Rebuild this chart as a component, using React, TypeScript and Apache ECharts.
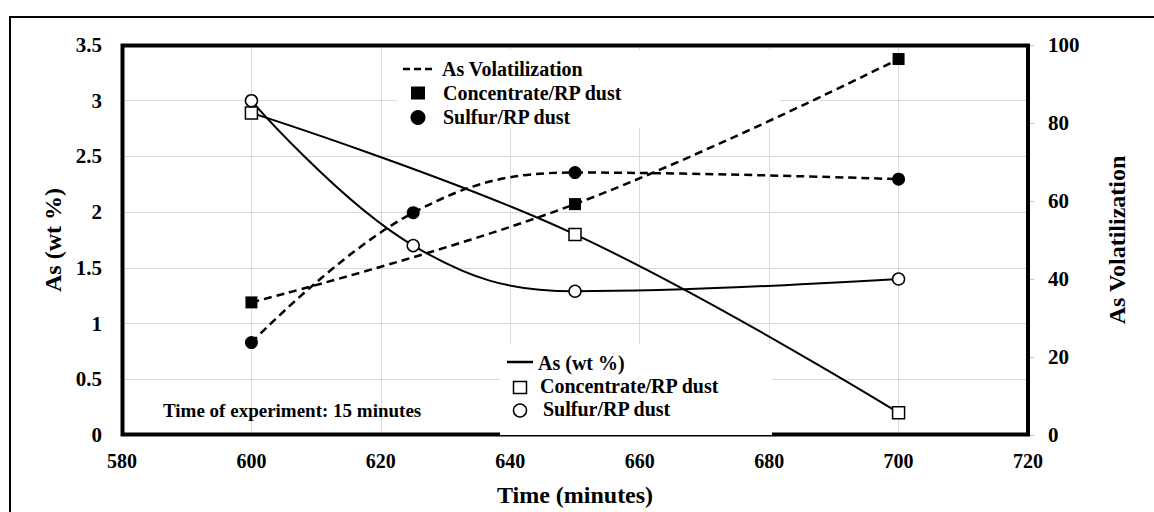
import React, { useEffect, useRef } from 'react';
import * as echarts from 'echarts';

// ---- Data ----
const xMin = 580;
const xMax = 720;
const xInterval = 20;
const wtMax = 3.5;
const wtInterval = 0.5;
const volMax = 100;
const volInterval = 20;

const concTime = [600, 650, 700];
const concWt = [2.89, 1.8, 0.2];
const concVol = [34.0, 59.2, 96.4];

const sulfTime = [600, 625, 650, 700];
const sulfWt = [3.0, 1.7, 1.29, 1.4];
const sulfVol = [23.7, 57.0, 67.3, 65.6];

const xTitle = 'Time (minutes)';
const yLeftTitle = 'As (wt %)';
const yRightTitle = 'As Volatilization';
const note = 'Time of experiment: 15 minutes';

const FONT = "'Liberation Serif', 'Times New Roman', serif";

function pairs(xs: number[], ys: number[]) {
  return xs.map((x, i) => [x, ys[i]]);
}

function txt(text: string, x: number, y: number, size: number) {
  return {
    type: 'text',
    z: 5,
    style: {
      text,
      x,
      y,
      fill: '#000',
      fontFamily: FONT,
      fontSize: size,
      fontWeight: 'bold',
      font: `bold ${size}px ${FONT}`,
      align: 'left',
      textAlign: 'left',
      verticalAlign: 'middle',
      textVerticalAlign: 'middle',
    },
  };
}

export default function App() {
  const ref = useRef<HTMLDivElement>(null);

  useEffect(() => {
    if (!ref.current) return;
    const chart = echarts.init(ref.current, undefined, { renderer: 'svg' });
    const axisLabelStyle = { color: '#000', fontSize: 21, fontWeight: 'bold', fontFamily: FONT };
    const nameStyle = { color: '#000', fontSize: 24, fontWeight: 'bold', fontFamily: FONT };
    const smooth = 0.4;

    chart.setOption({
      animation: false,
      backgroundColor: '#fff',
      textStyle: { fontFamily: FONT },
      grid: { left: 122, right: 126, top: 45, bottom: 77, show: false },
      xAxis: {
        type: 'value',
        min: xMin,
        max: xMax,
        interval: xInterval,
        name: xTitle,
        nameLocation: 'middle',
        nameGap: 48,
        nameTextStyle: nameStyle,
        axisLine: { show: false },
        axisTick: { show: false },
        axisLabel: { ...axisLabelStyle, fontSize: 20, margin: 16 },
        splitLine: { show: true, lineStyle: { color: '#d9d9d9', width: 1 } },
      },
      yAxis: [
        {
          type: 'value',
          min: 0,
          max: wtMax,
          interval: wtInterval,
          name: yLeftTitle,
          nameLocation: 'middle',
          nameGap: 57,
          nameTextStyle: nameStyle,
          axisLine: { show: false },
          axisTick: { show: false },
          axisLabel: { ...axisLabelStyle, margin: 20 },
          splitLine: { show: true, lineStyle: { color: '#d9d9d9', width: 1 } },
        },
        {
          type: 'value',
          position: 'right',
          min: 0,
          max: volMax,
          interval: volInterval,
          name: yRightTitle,
          nameLocation: 'middle',
          nameGap: 77,
          nameTextStyle: nameStyle,
          axisLine: { show: false },
          axisTick: { show: true, length: 6, lineStyle: { color: '#bfbfbf' } },
          axisLabel: { ...axisLabelStyle, margin: 20 },
          splitLine: { show: false },
        },
      ],
      series: [
        {
          name: 'Concentrate/RP dust As (wt %)',
          type: 'line',
          yAxisIndex: 0,
          data: pairs(concTime, concWt),
          smooth,
          symbol: 'rect',
          symbolSize: 12,
          lineStyle: { color: '#000', width: 2 },
          itemStyle: { color: '#fff', borderColor: '#000', borderWidth: 1.5 },
          z: 3,
        },
        {
          name: 'Sulfur/RP dust As (wt %)',
          type: 'line',
          yAxisIndex: 0,
          data: pairs(sulfTime, sulfWt),
          smooth,
          symbol: 'circle',
          symbolSize: 12,
          lineStyle: { color: '#000', width: 2 },
          itemStyle: { color: '#fff', borderColor: '#000', borderWidth: 1.5 },
          z: 3,
        },
        {
          name: 'Concentrate/RP dust As Volatilization',
          type: 'line',
          yAxisIndex: 1,
          data: pairs(concTime, concVol),
          smooth,
          symbol: 'rect',
          symbolSize: 12,
          lineStyle: { color: '#000', width: 2.5, type: [8, 5] },
          itemStyle: { color: '#000' },
          z: 3,
        },
        {
          name: 'Sulfur/RP dust As Volatilization',
          type: 'line',
          yAxisIndex: 1,
          data: pairs(sulfTime, sulfVol),
          smooth,
          symbol: 'circle',
          symbolSize: 13,
          lineStyle: { color: '#000', width: 2.5, type: [8, 5] },
          itemStyle: { color: '#000' },
          z: 3,
        },
      ],
      graphic: [
        // outer frame
        {
          type: 'polyline',
          z: 1,
          shape: { points: [[10, 512], [10, 17], [1154, 17]] },
          style: { stroke: '#000', lineWidth: 2, fill: null },
        },
        // plot frame
        {
          type: 'rect',
          z: 1.2,
          shape: { x: 122.5, y: 45.5, width: 905.5, height: 389 },
          style: { stroke: '#000', lineWidth: 4, fill: null },
        },
        // upper legend box background
        {
          type: 'rect',
          z: 1.5,
          shape: { x: 397, y: 50, width: 383, height: 78 },
          style: { fill: '#fff', stroke: null },
        },
        // lower legend box background
        {
          type: 'rect',
          z: 1.5,
          shape: { x: 500, y: 344, width: 272, height: 91 },
          style: { fill: '#fff', stroke: null },
        },
        // upper legend
        {
          type: 'line',
          z: 5,
          shape: { x1: 403, y1: 69, x2: 434, y2: 69 },
          style: { stroke: '#000', lineWidth: 2.5, lineDash: [7, 4] },
        },
        txt('As Volatilization', 442, 69, 20),
        {
          type: 'rect',
          z: 5,
          shape: { x: 411, y: 86.5, width: 14, height: 13 },
          style: { fill: '#000' },
        },
        txt('Concentrate/RP dust', 443, 93, 20),
        {
          type: 'circle',
          z: 5,
          shape: { cx: 418, cy: 117.5, r: 7.5 },
          style: { fill: '#000' },
        },
        txt('Sulfur/RP dust', 443, 117, 20),
        // lower legend
        {
          type: 'line',
          z: 5,
          shape: { x1: 507, y1: 362, x2: 533, y2: 362 },
          style: { stroke: '#000', lineWidth: 2.5 },
        },
        txt('As (wt %)', 538, 363, 20),
        {
          type: 'rect',
          z: 5,
          shape: { x: 513.5, y: 381.5, width: 13, height: 12 },
          style: { fill: '#fff', stroke: '#000', lineWidth: 1.5 },
        },
        txt('Concentrate/RP dust', 540, 386, 20),
        {
          type: 'circle',
          z: 5,
          shape: { cx: 520, cy: 410.5, r: 6.5 },
          style: { fill: '#fff', stroke: '#000', lineWidth: 1.5 },
        },
        txt('Sulfur/RP dust', 543, 409, 20),
        // note
        txt(note, 163, 410, 19),
      ],
    });
    return () => chart.dispose();
  }, []);

  return (
    <div
      ref={ref}
      style={{ position: 'absolute', left: 0, top: 0, width: 1154, height: 512 }}
    />
  );
}
